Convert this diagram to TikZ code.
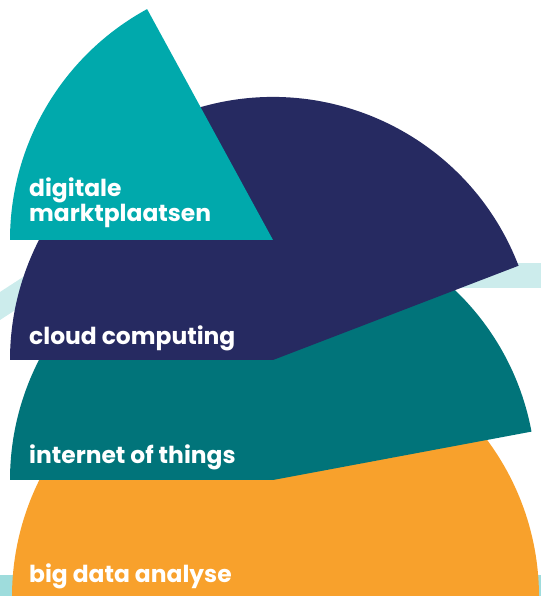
\documentclass[tikz,border=0pt]{standalone}
\usepackage{fontspec}
\newfontfamily\labfont{Poppins}
\definecolor{cTeal}{HTML}{00A9AC}
\definecolor{cNavy}{HTML}{262A61}
\definecolor{cDark}{HTML}{01747A}
\definecolor{cOrange}{HTML}{F8A12C}
\definecolor{cPale}{HTML}{CCECEC}
\definecolor{cBand}{HTML}{9EDCDC}
\tikzset{
  lab/.style={anchor=base west, inner sep=0pt, text=white, font=\labfont\bfseries\fontsize{23.4}{25}\selectfont, align=left},
}
\begin{document}
\begin{tikzpicture}[x=1pt,y=1pt]
\useasboundingbox (0,0) rectangle (541,596);
% background bands
\fill[cPale] (400,308) rectangle (541,333);
\fill[cPale] (0,304) -- (60,343) -- (60,315) -- (0,276) -- cycle;
\fill[cBand] (0,0) rectangle (541,21);
% sectors
\fill[cOrange] (275.5,-1) ++(0:263.5) arc[start angle=0, end angle=180, radius=263.5] -- cycle;
\fill[cDark] (273,116) -- +(10.6:263) arc[start angle=10.6, end angle=180, radius=263] -- cycle;
\fill[cNavy] (273,236) -- +(21:263) arc[start angle=21, end angle=180, radius=263] -- cycle;
\fill[cTeal] (273,356) -- +(118.6:263) arc[start angle=118.6, end angle=180, radius=263] -- cycle;
% labels
\node[lab] (dm) at (29,374) {digitale\\marktplaatsen};
\node[lab] (cc) at (29,251) {cloud computing};
\node[lab] (it) at (29,132) {internet of things};
\node[lab] (bd) at (29,13) {big data analyse};
\end{tikzpicture}
\end{document}
